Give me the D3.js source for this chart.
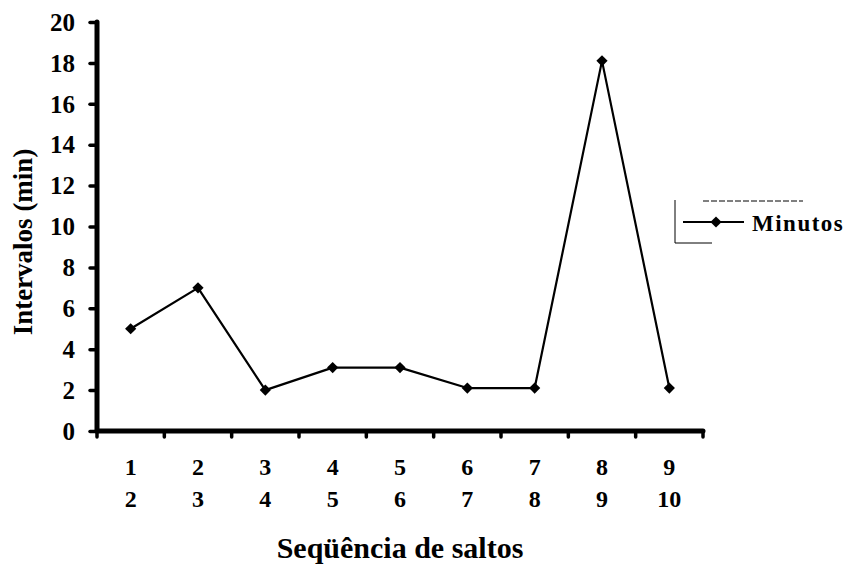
<!DOCTYPE html>
<html>
<head>
<meta charset="utf-8">
<script src="https://cdn.jsdelivr.net/npm/d3@7"></script>
<style>
  html, body { margin: 0; padding: 0; background: #fff; }
  svg { display: block; }
</style>
</head>
<body>
<svg id="chart" width="854" height="565"></svg>
<script>
// Jump pairs (first / second jump) and interval between them, in minutes
const firstJump  = ["1", "2", "3", "4", "5", "6", "7", "8", "9"];
const secondJump = ["2", "3", "4", "5", "6", "7", "8", "9", "10"];
const minutos    = [5, 7, 2, 3.1, 3.1, 2.1, 2.1, 18.1, 2.1];
const yTicks     = [0, 2, 4, 6, 8, 10, 12, 14, 16, 18, 20];
const seriesName = "Minutos";

const svg = d3.select("#chart");
const plotLeft = 97, plotRight = 703, plotTop = 22, plotBottom = 431;

const x = d3.scaleBand().domain(d3.range(minutos.length)).range([plotLeft, plotRight]);
const y = d3.scaleLinear().domain([0, 20]).range([plotBottom, plotTop]);

const label = sel => sel.attr("font-family", "Liberation Serif")
  .attr("font-weight", "bold").attr("fill", "#000");

// Y axis
const yAxis = svg.append("g").attr("transform", `translate(${plotLeft},0)`)
  .call(d3.axisLeft(y).tickValues(yTicks).tickSize(7).tickPadding(15));
yAxis.select(".domain").attr("stroke-width", 5).attr("stroke-linecap", "round")
  .attr("d", `M0,${plotBottom}V${plotTop}`);
yAxis.selectAll(".tick line").attr("stroke-width", 3.5).attr("stroke-linecap", "round");
yAxis.selectAll(".tick text").call(label).attr("font-size", 25).attr("dy", "0.33em");

// X axis: ticks at band boundaries
const bounds = d3.range(minutos.length + 1).map(i => plotLeft + i * x.step());
const xAxis = svg.append("g");
xAxis.append("line").attr("x1", plotLeft).attr("x2", plotRight)
  .attr("y1", plotBottom).attr("y2", plotBottom)
  .attr("stroke", "#000").attr("stroke-width", 5).attr("stroke-linecap", "round");
xAxis.selectAll("line.tk").data(bounds).join("line").attr("class", "tk")
  .attr("x1", d => d).attr("x2", d => d)
  .attr("y1", plotBottom).attr("y2", plotBottom + 6)
  .attr("stroke", "#000").attr("stroke-width", 3.5).attr("stroke-linecap", "round");

const cx = i => x(i) + x.bandwidth() / 2;
xAxis.selectAll("text.l1").data(firstJump).join("text").attr("class", "l1")
  .attr("x", (d, i) => cx(i)).attr("y", 475).attr("text-anchor", "middle")
  .attr("font-size", 24).call(label).text(d => d);
xAxis.selectAll("text.l2").data(secondJump).join("text").attr("class", "l2")
  .attr("x", (d, i) => cx(i)).attr("y", 507).attr("text-anchor", "middle")
  .attr("font-size", 24).call(label).text(d => d);

// Axis titles
svg.append("text").attr("x", 400).attr("y", 558).attr("text-anchor", "middle")
  .attr("font-size", 30).call(label).text("Seqüência de saltos");
svg.append("text").attr("transform", "translate(32,242) rotate(-90)")
  .attr("text-anchor", "middle").attr("font-size", 27).call(label).text("Intervalos (min)");

// Series line and diamond markers
const line = d3.line().x((d, i) => cx(i)).y(d => y(d));
svg.append("path").datum(minutos).attr("d", line)
  .attr("fill", "none").attr("stroke", "#000").attr("stroke-width", 2.2)
  .attr("stroke-linejoin", "round");
const diamond = d3.symbol().type(d3.symbolDiamond2).size(80);
svg.selectAll("path.pt").data(minutos).join("path").attr("class", "pt")
  .attr("d", diamond).attr("transform", (d, i) => `translate(${cx(i)},${y(d)})`)
  .attr("fill", "#000");

// Legend
const lg = svg.append("g");
lg.append("path").attr("d", "M675,200V243H712").attr("fill", "none")
  .attr("stroke", "#000").attr("stroke-width", 1);
lg.append("line").attr("x1", 703).attr("x2", 803).attr("y1", 201).attr("y2", 201)
  .attr("stroke", "#000").attr("stroke-width", 1).attr("stroke-dasharray", "6,2");
lg.append("line").attr("x1", 683).attr("x2", 744).attr("y1", 222).attr("y2", 222)
  .attr("stroke", "#000").attr("stroke-width", 2.2);
lg.append("path").attr("d", diamond).attr("transform", "translate(716,222)").attr("fill", "#000");
lg.append("text").attr("x", 752).attr("y", 231).attr("font-size", 23)
  .attr("letter-spacing", 1.5).call(label).text(seriesName);
</script>
</body>
</html>
